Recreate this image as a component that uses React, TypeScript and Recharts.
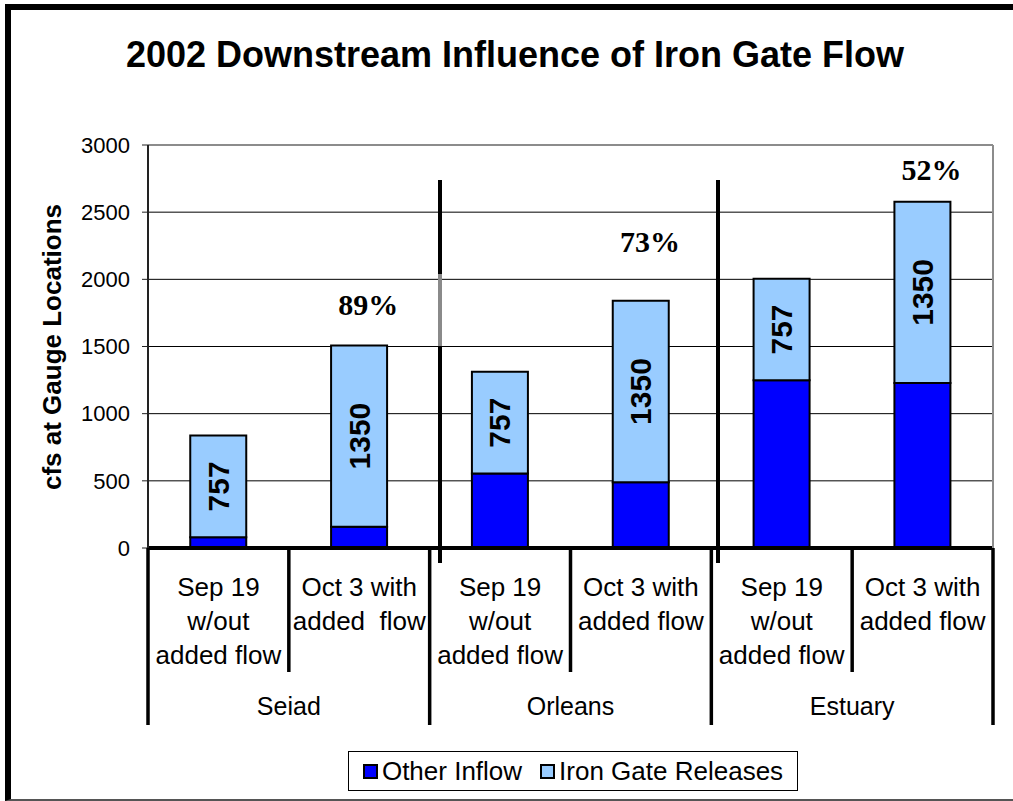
import React from "react";
import {
  ComposedChart,
  Bar,
  Line,
  XAxis,
  YAxis,
  CartesianGrid,
  ReferenceLine,
  LabelList,
} from "recharts";

// categories (one per bar) and their multi-line axis labels
const categoryKeys = ["seiadSep", "seiadOct", "orleansSep", "orleansOct", "estuarySep", "estuaryOct"];
const categoryLines = [
  ["Sep 19", "w/out", "added flow"],
  ["Oct 3 with", "added  flow"],
  ["Sep 19", "w/out", "added flow"],
  ["Oct 3 with", "added flow"],
  ["Sep 19", "w/out", "added flow"],
  ["Oct 3 with", "added flow"],
];
const groupLabels = ["Seiad", "Orleans", "Estuary"];

// series (cfs)
const otherInflow = [80, 158, 555, 490, 1248, 1228];
const ironGateReleases = [757, 1350, 757, 1350, 757, 1350];

// share of Iron Gate flow, written above the Oct 3 bars
const shareLabels = ["", "89%", "", "73%", "", "52%"];
const shareLabelY = [null, 1815, null, 2283, null, 2820];

const yTicks = [0, 500, 1000, 1500, 2000, 2500, 3000];

const data = categoryKeys.map((key, i) => ({
  key,
  other: otherInflow[i],
  iron: ironGateReleases[i],
  share: shareLabels[i],
  shareY: shareLabelY[i],
}));

const W = 1013;
const H = 801;
const PLOT_LEFT = 148;
const PLOT_RIGHT = 993;
const PLOT_TOP = 145;
const PLOT_BOTTOM = 548;
const X_AXIS_H = 180;
const BAND = (PLOT_RIGHT - PLOT_LEFT) / categoryKeys.length;

const SANS = "Arial, 'Liberation Sans', Helvetica, sans-serif";
const SERIF = "'Times New Roman', 'Liberation Serif', serif";

const DARK = "#0000FF";
const LIGHT = "#99CCFF";

function CategoryTick(props: any) {
  const { x, payload } = props;
  const i = payload.index;
  const lines = categoryLines[i];
  const right = x + BAND / 2;
  const left = x - BAND / 2;
  const groupEdge = i % 2 === 1;
  return (
    <g>
      {lines.map((t, k) => (
        <text
          key={k}
          x={x}
          y={587 + k * 34}
          textAnchor="middle"
          dominantBaseline="central"
          fontFamily={SANS}
          fontSize={26}
          fill="#000"
          style={{ whiteSpace: "pre" }}
        >
          {t}
        </text>
      ))}
      {i === 0 && (
        <line x1={left} x2={left} y1={PLOT_BOTTOM} y2={725} stroke="#000" strokeWidth={3.5} />
      )}
      <line
        x1={right}
        x2={right}
        y1={PLOT_BOTTOM}
        y2={groupEdge ? 725 : 672}
        stroke="#000"
        strokeWidth={3.5}
      />
      {groupEdge && (
        <text
          x={left}
          y={706}
          textAnchor="middle"
          dominantBaseline="central"
          fontFamily={SANS}
          fontSize={25}
          fill="#000"
        >
          {groupLabels[(i - 1) / 2]}
        </text>
      )}
    </g>
  );
}

function SegmentLabel(props: any) {
  const { x, y, width, height, value } = props;
  const cx = x + width / 2;
  const cy = y + height / 2;
  return (
    <text
      x={cx}
      y={cy}
      transform={`rotate(-90 ${cx} ${cy})`}
      textAnchor="middle"
      dominantBaseline="central"
      fontFamily={SANS}
      fontWeight="bold"
      fontSize={30}
      fill="#000"
    >
      {value}
    </text>
  );
}

function ShareLabel(props: any) {
  const { x, y, value } = props;
  if (!value) return null;
  return (
    <text
      x={x + 9}
      y={y}
      textAnchor="middle"
      dominantBaseline="central"
      fontFamily={SERIF}
      fontWeight="bold"
      fontSize={30}
      fill="#000"
    >
      {value}
    </text>
  );
}

function YTitle() {
  return (
    <text
      x={61}
      y={347}
      transform="rotate(-90 61 347)"
      textAnchor="middle"
      fontFamily={SANS}
      fontWeight="bold"
      fontSize={26}
      fill="#000"
    >
      cfs at Gauge Locations
    </text>
  );
}

const legendItems = [
  { name: "Other Inflow", color: DARK },
  { name: "Iron Gate Releases", color: LIGHT },
];

export default function App() {
  return (
    <div style={{ position: "absolute", left: 0, top: 0, width: W, height: H, background: "#fff", overflow: "hidden" }}>
      {/* frame */}
      <div
        style={{
          position: "absolute",
          left: 5,
          top: 4,
          width: W - 5,
          height: H - 4,
          boxSizing: "border-box",
          borderTop: "6px solid #000",
          borderLeft: "6px solid #000",
          borderBottom: "2px solid #555",
        }}
      />

      {/* title */}
      <div
        style={{
          position: "absolute",
          left: 0,
          top: 37,
          width: 1030,
          textAlign: "center",
          fontFamily: SANS,
          fontWeight: "bold",
          fontSize: 36,
          lineHeight: "36px",
          color: "#000",
        }}
      >
        2002 Downstream Influence of Iron Gate Flow
      </div>

      <div style={{ position: "absolute", left: 0, top: 0 }}>
        <ComposedChart
          width={W}
          height={H}
          data={data}
          margin={{ top: PLOT_TOP, right: W - PLOT_RIGHT, bottom: H - PLOT_BOTTOM - X_AXIS_H, left: 0 }}
          barCategoryGap="30%"
        >
          <CartesianGrid horizontal vertical={false} stroke="#000" strokeWidth={1} />
          <XAxis
            dataKey="key"
            interval={0}
            height={X_AXIS_H}
            tick={<CategoryTick />}
            tickLine={false}
            axisLine={false}
          />
          <YAxis
            width={PLOT_LEFT}
            domain={[0, 3000]}
            ticks={yTicks}
            interval={0}
            tickSize={6}
            tickMargin={12}
            tick={{ fontFamily: SANS, fontSize: 22, fill: "#000" }}
            axisLine={{ stroke: "#222", strokeWidth: 2 }}
            tickLine={{ stroke: "#222", strokeWidth: 1 }}
            label={<YTitle />}
          />
          <ReferenceLine y={3000} stroke="#8c8c8c" strokeWidth={2} />
          <Bar dataKey="other" stackId="a" fill={DARK} stroke="#000" strokeWidth={2} isAnimationActive={false} />
          <Bar dataKey="iron" stackId="a" fill={LIGHT} stroke="#000" strokeWidth={2} isAnimationActive={false}>
            <LabelList dataKey="iron" content={<SegmentLabel />} />
          </Bar>
          <Line
            dataKey="shareY"
            stroke="none"
            dot={false}
            activeDot={false}
            connectNulls={false}
            isAnimationActive={false}
            legendType="none"
          >
            <LabelList dataKey="share" content={<ShareLabel />} />
          </Line>
          <ReferenceLine y={0} stroke="#000" strokeWidth={4} />
        </ComposedChart>
      </div>

      {/* plot right edge and drawn group separators */}
      <svg style={{ position: "absolute", left: 0, top: 0, pointerEvents: "none" }} width={W} height={H}>
        <line x1={PLOT_RIGHT} x2={PLOT_RIGHT} y1={PLOT_TOP} y2={PLOT_BOTTOM} stroke="#8c8c8c" strokeWidth={2} />
        <line x1={440} x2={440} y1={180} y2={563} stroke="#000" strokeWidth={4} />
        <line x1={440} x2={440} y1={274} y2={346} stroke="#8a8a8a" strokeWidth={4} />
        <line x1={718} x2={718} y1={180} y2={563} stroke="#000" strokeWidth={4} />
      </svg>

      {/* legend */}
      <div
        style={{
          position: "absolute",
          left: 348,
          top: 751,
          width: 450,
          height: 40,
          boxSizing: "border-box",
          border: "1px solid #000",
          display: "flex",
          alignItems: "center",
          justifyContent: "center",
          gap: 18,
          fontFamily: SANS,
          fontSize: 26,
          color: "#000",
        }}
      >
        {legendItems.map((item) => (
          <div key={item.name} style={{ display: "flex", alignItems: "center", gap: 4 }}>
            <div
              style={{
                width: 15,
                height: 15,
                boxSizing: "border-box",
                border: "2px solid #000",
                background: item.color,
              }}
            />
            <span>{item.name}</span>
          </div>
        ))}
      </div>
    </div>
  );
}
